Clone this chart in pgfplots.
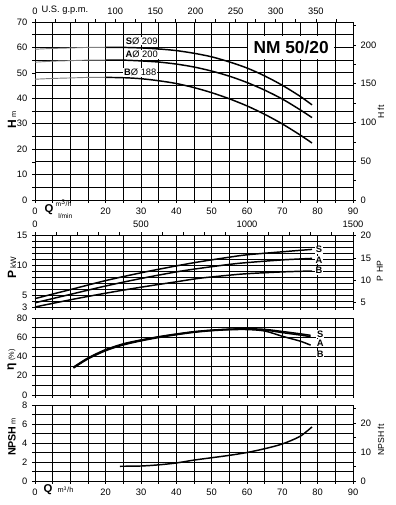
\documentclass[border=0pt]{standalone}
\usepackage{pgfplots}
\pgfplotsset{compat=1.18}
\usepackage{fontspec}
\setmainfont{Liberation Sans}
\tikzset{lbl/.style={fill=white, inner sep=0.6pt, font=\bfseries\fontsize{7}{8}\selectfont}}
\begin{document}
\begin{tikzpicture}
\useasboundingbox (0,0) rectangle (296.25pt,378.75pt);
\pgfplotsset{
  every axis/.append style={
    scale only axis, width=238.5pt, anchor=south west,
    xmin=0, xmax=90,
    axis line style={black, line width=0.7pt},
    tick style={black, line width=0.5pt},
    major tick length=2.2pt, minor tick length=2.2pt,
    tick align=outside,
    tick label style={font=\fontsize{7}{8}\selectfont},
    /pgf/number format/assume math mode=true,
    /pgf/number format/1000 sep={},
    grid style={black, line width=0.55pt},
    clip=false,
  },
  mainax/.style={grid=both, tick pos=left, xtick={0,10,...,90}, minor xtick={5,15,...,85}},
  crv/.style={black, line width=1.1pt, smooth, no markers},
}
% ---------------- H panel ----------------
\begin{axis}[mainax, at={(26.25pt,228.75pt)}, height=133.5pt,
  ymin=0, ymax=70, ytick={0,10,...,70}, minor ytick={5,15,...,65},
  xtick={0,20,30,...,90}, minor xtick={5,10,15,...,85}]
\addplot[gray, line width=0.7pt, smooth] coordinates {(0,59.3)(5,59.6)(10,59.8)(15,60)(20,60)};
\addplot[gray, line width=0.7pt, smooth] coordinates {(0,54.2)(5,54.6)(10,54.8)(15,55)(20,55)};
\addplot[gray, line width=0.7pt, smooth] coordinates {(0,47.5)(5,47.8)(10,48)(15,48.2)(20,48.2)};
\addplot[crv] coordinates {(20,60)(25,60)(30,59.8)(35,59.4)(40,58.75)(45,57.7)(50,56.3)(55,54.3)(60,51.9)(65,48.8)(70,45.1)(75,40.8)(78.4,37.4)};
\addplot[crv] coordinates {(20,55)(25,55)(30,54.7)(35,54.25)(40,53.45)(45,52.3)(50,50.7)(55,48.7)(60,46.2)(65,43.2)(70,39.7)(75,35.5)(78.4,32.4)};
\addplot[crv] coordinates {(20,48.2)(25,48.1)(30,47.7)(35,46.9)(40,45.8)(45,44.2)(50,42.2)(55,39.8)(60,37.0)(65,33.7)(70,29.9)(75,25.6)(78.4,22.4)};
\node[lbl] at (axis cs:30.2,62.6) {S\mdseries Ø 209};
\node[lbl] at (axis cs:30.2,57.3) {A\mdseries Ø 200};
\node[lbl] at (axis cs:29.8,50.2) {B\mdseries Ø 188};
\fill[white] (axis cs:60.4,55.6) rectangle (axis cs:84.6,64.6);
\node[font=\bfseries\fontsize{13}{14}\selectfont] at (axis cs:72.5,60) {NM 50/20};
\end{axis}
\begin{axis}[at={(26.25pt,228.75pt)}, height=133.5pt, ymin=0, ymax=229.66,
  axis y line*=right, axis x line=none, ytick={0,50,...,200}, minor ytick={25,75,...,225}]
\end{axis}
\begin{axis}[at={(26.25pt,228.75pt)}, height=133.5pt, xmin=0, xmax=396.27, ymin=0, ymax=1,
  axis x line*=top, axis y line=none, xtick={0,100,150,200,250,300,350},
  minor xtick={25,50,75,125,175,225,275,325,375}]
\end{axis}
% ---------------- P panel ----------------
\begin{axis}[mainax, at={(26.25pt,148.5pt)}, height=54pt,
  ymin=3, ymax=15, ytick={3,5,10,15}, minor ytick={4,6,7,8,9,11,12,13,14},
  xticklabels={}]
\addplot[crv] coordinates {(0,4.4)(10,5.9)(20,7.4)(30,8.7)(40,9.85)(46.7,10.55)(55,11.3)(60,11.7)(70,12.2)(78.4,12.6)};
\addplot[crv] coordinates {(0,3.7)(10,5.1)(20,6.5)(30,7.75)(40,8.85)(46.7,9.45)(55,10.1)(60,10.4)(70,10.85)(78.4,11.1)};
\addplot[crv] coordinates {(0,3.0)(10,4.2)(20,5.3)(30,6.3)(40,7.2)(46.7,7.8)(55,8.3)(60,8.55)(70,8.85)(78.4,9.0)};
\node[lbl] at (axis cs:80.4,12.55) {S};
\node[lbl] at (axis cs:80.4,10.8) {A};
\node[lbl] at (axis cs:80.4,9.05) {B};
\end{axis}
\begin{axis}[at={(26.25pt,148.5pt)}, height=54pt, ymin=4.023, ymax=20.115,
  axis y line*=right, axis x line=none, ytick={5,10,15,20}]
\end{axis}
\begin{axis}[at={(26.25pt,148.5pt)}, height=54pt, xmin=0, xmax=1500, ymin=0, ymax=1,
  axis x line*=top, axis y line=none, xtick={0,500,1000,1500}, minor xtick={0,100,...,1500}]
\end{axis}
% ---------------- eta panel ----------------
\begin{axis}[mainax, at={(26.25pt,82.5pt)}, height=57.75pt,
  ymin=0, ymax=80, ytick={0,20,...,80}, minor ytick={10,30,50,70},
  xticklabels={}]
\addplot[crv] coordinates {(10.9,29)(15,38.5)(20,47.2)(25,53.2)(30,57.2)(35,60.6)(40,63.4)(45,65.8)(50,67.4)(55,68.4)(60,68.8)(65,68.2)(70,66)(75,63.6)(78,62)};
\addplot[crv] coordinates {(10.9,28.5)(15,38)(20,46.6)(25,52.6)(30,56.8)(35,60.2)(40,63)(45,65.5)(50,67.2)(55,68.2)(60,68.5)(65,67.5)(70,64.8)(75,62.3)(78,60.6)};
\addplot[crv] coordinates {(10.9,28)(15,37.5)(20,46)(25,52)(30,56.2)(35,59.7)(40,62.6)(45,65.1)(50,66.8)(55,67.8)(60,68)(65,66.5)(70,61)(75,56)(78,51.8)};
\node[lbl] at (axis cs:80.7,63.3) {S};
\node[lbl] at (axis cs:80.7,53.7) {A};
\node[lbl] at (axis cs:80.7,41.9) {B};
\end{axis}
% ---------------- NPSH panel ----------------
\begin{axis}[mainax, at={(26.25pt,18pt)}, height=57pt,
  ymin=0, ymax=8, ytick={0,2,...,8}, minor ytick={1,3,5,7},
  xtick={0,20,30,...,90}, minor xtick={5,10,15,...,85}]
\addplot[crv] coordinates {(24,1.55)(30,1.58)(35,1.7)(40,1.9)(45,2.2)(50,2.45)(55,2.7)(60,3.0)(65,3.4)(70,3.9)(75,4.7)(78.4,5.7)};
\end{axis}
\begin{axis}[at={(26.25pt,18pt)}, height=57pt, ymin=0, ymax=26.247,
  axis y line*=right, axis x line=none, ytick={0,10,20}, minor ytick={5,15,25}]
\end{axis}
% ---------------- labels ----------------
\node[font=\fontsize{7}{8}\selectfont] at (48.75pt,371.25pt) {U.S. g.p.m.};
\node[font=\bfseries\fontsize{8.5}{9}\selectfont, inner sep=0pt] at (36.75pt,221.25pt) {Q};
\node[font=\fontsize{5}{5}\selectfont, inner sep=0pt] at (47.6pt,226.4pt) {m\textsuperscript{3}/h};
\node[font=\fontsize{5}{5}\selectfont, inner sep=0pt] at (49pt,216.6pt) {l/min};
\node[font=\bfseries\fontsize{8.5}{9}\selectfont, inner sep=0pt] at (36pt,11.25pt) {Q};
\node[font=\fontsize{5.5}{6}\selectfont, inner sep=0pt] at (49.1pt,11.5pt) {m\textsuperscript{3}/h};
\node[rotate=90] at (9pt,288.75pt) {{\bfseries\fontsize{9}{9}\selectfont H}\,{\fontsize{5.5}{6}\selectfont m}};
\node[rotate=90] at (9pt,177.75pt) {{\bfseries\fontsize{9}{9}\selectfont P}\,{\fontsize{6}{6}\selectfont kW}};
\node[rotate=90] at (9pt,108.75pt) {{\bfseries\fontsize{9}{9}\selectfont η}\,{\fontsize{5.5}{6}\selectfont (\%)}};
\node[rotate=90] at (9pt,51pt) {{\bfseries\fontsize{8}{9}\selectfont NPSH}\,{\fontsize{5.5}{6}\selectfont m}};
\node[rotate=90, font=\fontsize{6.5}{7}\selectfont] at (285.75pt,294.75pt) {H ft};
\node[rotate=90, font=\fontsize{6.5}{7}\selectfont] at (285pt,175.5pt) {P HP};
\node[rotate=90, font=\fontsize{6.5}{7}\selectfont] at (285.75pt,48.75pt) {NPSH ft};
\end{tikzpicture}
\end{document}
